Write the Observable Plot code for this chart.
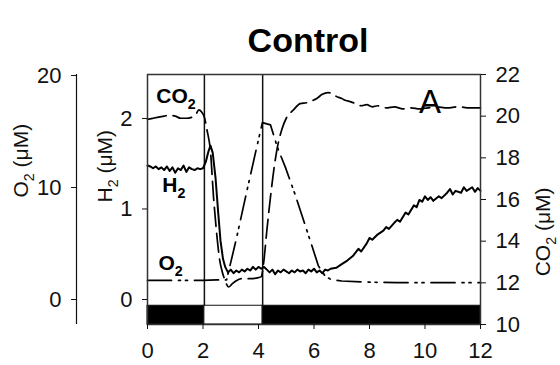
<!DOCTYPE html>
<html><head><meta charset="utf-8">
<script src="https://cdn.jsdelivr.net/npm/d3@7"></script>
<script src="https://cdn.jsdelivr.net/npm/@observablehq/plot@0.6"></script>
<style>
body{margin:0;background:#fff;}
#chart{width:560px;height:365px;}
</style></head><body><div id="chart"></div>
<script>
// ---- data (time in h, concentrations in µM) ----
const h2Time = [0,0.1,0.2,0.3,0.4,0.5,0.6,0.7,0.8,0.9,1.0,1.1,1.2,1.3,1.4,1.5,1.6,1.7,1.8,1.9,2.0,
  2.1,2.2,2.27,2.35,2.45,2.55,2.63,2.72,2.8,
  2.9,3.0,3.1,3.2,3.3,3.4,3.5,3.6,3.7,3.8,3.9,4.0,4.1,4.2,4.3,4.4,4.5,4.6,4.7,4.8,4.9,5.0,5.1,5.2,5.3,5.4,5.5,5.6,5.7,5.8,5.9,6.0,6.1,6.2,6.3,6.4,6.5,6.6,
  6.8,7.0,7.2,7.4,7.6,7.7,7.9,8.0,8.1,8.3,8.5,8.6,8.7,8.9,9.0,9.1,9.3,9.4,9.6,9.7,9.8,9.9,10.0,10.1,10.2,10.3,10.5,10.6,10.8,10.9,11.0,11.1,11.3,11.4,11.5,11.7,11.8,11.9,12.0];
const h2Value = [1.48,1.47,1.45,1.47,1.44,1.46,1.43,1.47,1.42,1.46,1.40,1.45,1.43,1.48,1.41,1.46,1.44,1.43,1.45,1.44,1.45,
  1.52,1.64,1.70,1.62,1.35,0.95,0.65,0.45,0.36,
  0.30,0.33,0.29,0.32,0.30,0.33,0.31,0.34,0.32,0.36,0.33,0.36,0.34,0.36,0.33,0.30,0.33,0.28,0.32,0.30,0.33,0.31,0.29,0.32,0.30,0.33,0.31,0.32,0.29,0.33,0.31,0.34,0.30,0.32,0.29,0.33,0.32,0.34,
  0.35,0.39,0.43,0.48,0.56,0.53,0.62,0.68,0.66,0.72,0.76,0.80,0.78,0.85,0.88,0.86,0.96,0.94,1.04,1.02,1.10,1.08,1.14,1.10,1.13,1.09,1.14,1.12,1.18,1.22,1.16,1.20,1.18,1.24,1.20,1.24,1.19,1.23,1.20];

const co2Time = [0,0.2,0.4,0.6,0.8,1.0,1.2,1.4,1.6,1.75,1.85,1.95,2.05,2.15,2.27,2.38,2.45,2.52,2.6,2.7,2.8,2.92,
  3.05,3.2,3.4,3.7,4.0,4.1,4.18,4.3,4.43,4.55,4.68,4.85,5.0,5.26,5.5,5.75,5.95,6.1,6.3,6.5,6.65,6.8,7.0,7.15,7.3,7.5,7.7,7.9,8.1,8.3,8.6,8.9,9.2,9.5,9.8,10.1,10.4,10.8,11.2,11.6,12.0];
const co2Value = [19.85,19.9,19.95,20.0,20.05,20.0,19.9,19.9,19.95,20.1,20.3,20.2,19.95,19.3,18.3,16.1,15.0,14.0,13.1,12.5,12.1,11.8,
  11.95,12.1,12.2,12.2,12.25,12.3,12.9,14.5,16.1,17.4,18.5,19.4,19.9,20.3,20.6,20.65,20.75,20.85,21.05,21.13,21.1,20.95,20.85,20.75,20.7,20.6,20.5,20.55,20.45,20.5,20.4,20.45,20.35,20.4,20.35,20.4,20.45,20.4,20.45,20.4,20.4];

const o2Time  = [0,0.5,1.0,1.5,2.0,2.5,2.85,2.99,3.2,3.6,3.9,4.14,4.43,4.68,4.97,5.33,5.7,6.16,6.4,6.6,7.0,8.0,9.0,10.0,11.0,12.0];
const o2Value = [1.7,1.7,1.7,1.7,1.7,1.75,1.75,3.2,5.4,9.9,13.2,15.8,15.6,13.6,11.8,9.3,6.5,3.0,2.1,1.8,1.65,1.55,1.5,1.5,1.5,1.5];

// light / dark periods
const periodStart = [0, 2.05, 4.15];
const periodEnd   = [2.05, 4.15, 12];
const periodKind  = ["dark", "light", "dark"];

// tick labels
const xTicks   = [0, 2, 4, 6, 8, 10, 12];
const co2Ticks = [10, 12, 14, 16, 18, 20, 22];
const h2Ticks  = [0, 1, 2];
const o2Ticks  = [0, 10, 20];

// text
const titleText = "Control";
const seriesLabel = ["CO₂", "H₂", "O₂"];
const seriesLabelX = [1.03, 0.95, 0.83];
const seriesLabelY = [20.94, 16.67, 12.93];   // in CO2-axis units
const panelLetter = "A";

// ---- axis mappings: H2 and O2 share the CO2 vertical scale ----
const h2ToY = d3.scaleLinear().domain([0, 2]).range([11.2, 19.89]);
const o2ToY = d3.scaleLinear().domain([0, 20]).range([11.2, 21.95]);

const periods = periodStart.map((s, i) => ({start: s, end: periodEnd[i], kind: periodKind[i]}));
const font = "Liberation Sans, Arial, Helvetica, sans-serif";
const ink = "#111";

const chart = Plot.plot({
  width: 560, height: 365,
  marginLeft: 147, marginRight: 80, marginTop: 74, marginBottom: 41,
  style: {fontFamily: font, fontSize: "22px", color: ink, background: "#fff"},
  x: {domain: [0, 12]},
  y: {domain: [10, 22]},
  marks: [
    // light/dark bar
    Plot.rect(periods, {x1: "start", x2: "end", y1: 10, y2: 10.9,
      fill: d => d.kind === "dark" ? "#000" : "#fff", stroke: ink, strokeWidth: 1}),
    Plot.ruleX([periodStart[1], periodStart[2]], {y1: 10.9, y2: 22, stroke: ink, strokeWidth: 1.5}),
    // series
    Plot.line(o2Time, {x: o2Time, y: o2Value.map(o2ToY), stroke: "#000", strokeWidth: 1.7,
      strokeDasharray: "24,7,2,5,2,7"}),
    Plot.line(co2Time, {x: co2Time, y: co2Value, stroke: "#000", strokeWidth: 1.7,
      strokeDasharray: "19,7", curve: "monotone-x"}),
    Plot.line(h2Time, {x: h2Time, y: h2Value.map(h2ToY), stroke: "#000", strokeWidth: 2}),
    Plot.frame({stroke: "#333", strokeWidth: 1.5}),
    // axes
    Plot.axisX(xTicks, {tickSize: 5, tickPadding: 13, fontSize: 22, label: null, stroke: ink}),
    Plot.axisY(co2Ticks, {anchor: "right", tickSize: 5, tickPadding: 10, fontSize: 22, label: null, stroke: ink}),
    Plot.axisY(h2Ticks.map(h2ToY), {anchor: "left", tickSize: 5, tickPadding: 10, fontSize: 22, label: null,
      stroke: ink, tickFormat: v => String(Math.round(h2ToY.invert(v)))}),
    Plot.axisY(o2Ticks.map(o2ToY), {anchor: "left", dx: -71, tickSize: 5, tickPadding: 10, fontSize: 22, label: null,
      stroke: ink, tickFormat: v => String(Math.round(o2ToY.invert(v)))}),
    Plot.ruleX([0], {dx: -71, y1: 10, y2: 22, stroke: ink, strokeWidth: 1.2}),
    // axis titles
    Plot.text(["O₂ (μM)"], {frameAnchor: "left", rotate: -90, dx: -126, dy: -2, fontSize: 21, fill: ink}),
    Plot.text(["H₂ (μM)"], {frameAnchor: "left", rotate: -90, dx: -42, dy: 3, fontSize: 21, fill: ink}),
    Plot.text(["CO₂ (μM)"], {frameAnchor: "right", rotate: -90, dx: 63, dy: -12, fontSize: 21, fill: ink}),
    // title and in-plot labels
    Plot.text([titleText], {frameAnchor: "top", dx: -6, dy: -47, fontSize: 34, fontWeight: "bold", fill: "#000"}),
    Plot.text(seriesLabel, {x: seriesLabelX, y: seriesLabelY, fontSize: 21, fontWeight: "bold", fill: "#000"}),
    Plot.text([panelLetter], {x: [10.18], y: [20.68], fontSize: 33, fill: "#000"})
  ]
});
document.getElementById("chart").appendChild(chart);

// render "₂" as a real lowered subscript
chart.querySelectorAll("text").forEach(t => {
  if (!t.textContent.includes("₂")) return;
  const fs = parseFloat(getComputedStyle(t).fontSize) || 21;
  const parts = t.textContent.split("₂");
  t.textContent = "";
  const ns = "http://www.w3.org/2000/svg";
  parts.forEach((p, i) => {
    if (p.length) {
      const s = document.createElementNS(ns, "tspan");
      if (i > 0) s.setAttribute("dy", -0.28 * fs);
      s.textContent = p;
      t.appendChild(s);
    }
    if (i < parts.length - 1) {
      const sub = document.createElementNS(ns, "tspan");
      sub.setAttribute("dy", 0.28 * fs);
      sub.setAttribute("font-size", 0.68 * fs);
      sub.textContent = "2";
      t.appendChild(sub);
    }
  });
});
</script>
</body></html>
